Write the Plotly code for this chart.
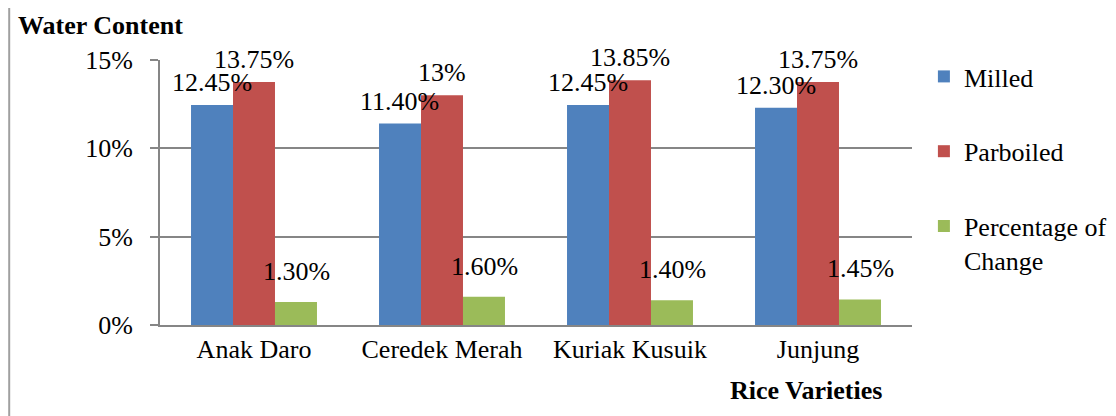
import plotly.graph_objects as go

categories = ["Anak Daro", "Ceredek Merah", "Kuriak Kusuik", "Junjung"]
milled = [12.45, 11.40, 12.45, 12.30]
parboiled = [13.75, 13.00, 13.85, 13.75]
change = [1.30, 1.60, 1.40, 1.45]
milled_labels = ["12.45%", "11.40%", "12.45%", "12.30%"]
parboiled_labels = ["13.75%", "13%", "13.85%", "13.75%"]
change_labels = ["1.30%", "1.60%", "1.40%", "1.45%"]
y_ticks = [0, 5, 10, 15]
y_tick_text = ["0%", "5%", "10%", "15%"]

W, H = 1116, 416
OFF = 8  # page body margin
# target plot area on screen: x 160..918, y 60..325
L, T = 160 - OFF, 60 - OFF
R = W - (918 - OFF)
B = H - (325 - OFF)
BARGAP = 0.33
FONT = "Liberation Serif, Times New Roman, serif"
FS = 26

series = [
    ("Milled", milled, milled_labels, "#4F81BD", 6),
    ("Parboiled", parboiled, parboiled_labels, "#C0504D", 6),
    ("Percentage of<br>Change", change, change_labels, "#9BBB59", 14),
]

fig = go.Figure()
for i, (name, vals, labs, col, ys) in enumerate(series):
    fig.add_trace(go.Bar(
        x=categories, y=vals, name=name, marker_color=col,
        marker_line_width=0, legendgroup=str(i),
    ))

plot_w = W - L - R
plot_h = H - T - B
slot = plot_w / len(categories)
bar_w = slot * (1 - BARGAP) / len(series)


def px_x(sx):
    return (sx - OFF - L) / plot_w


def px_y(sy):
    return (H - B - (sy - OFF)) / plot_h


annotations = []
for i, (name, vals, labs, col, ys) in enumerate(series):
    shift = (i - (len(series) - 1) / 2) * bar_w
    for c, v, t in zip(categories, vals, labs):
        annotations.append(dict(
            x=c, y=v, xref="x", yref="y", text=t, showarrow=False,
            xshift=shift, yshift=ys, yanchor="bottom", xanchor="center",
            font=dict(family=FONT, size=FS, color="black"),
        ))

annotations.append(dict(
    x=px_x(15), y=px_y(25), xref="paper", yref="paper",
    text="<b>Water Content</b>", showarrow=False, xanchor="left", yanchor="middle",
    font=dict(family=FONT, size=FS, color="black"),
))
annotations.append(dict(
    x=px_x(811), y=px_y(390), xref="paper", yref="paper",
    text="<b>Rice Varieties</b>", showarrow=False, xanchor="center", yanchor="middle",
    font=dict(family=FONT, size=FS, color="black"),
))

fig.update_layout(
    width=W, height=H,
    margin=dict(l=L, r=R, t=T, b=B, pad=0),
    paper_bgcolor="white", plot_bgcolor="white",
    barmode="group", bargap=BARGAP, bargroupgap=0,
    font=dict(family=FONT, size=FS, color="black"),
    showlegend=True,
    legend=dict(
        x=px_x(930), y=px_y(53), xanchor="left", yanchor="top",
        font=dict(family=FONT, size=FS, color="black"),
        tracegroupgap=38, valign="top", itemwidth=30,
        bgcolor="rgba(0,0,0,0)", maxheight=400,
    ),
    annotations=annotations,
    shapes=[dict(
        type="line", xref="paper", yref="paper",
        x0=px_x(8), x1=px_x(8),
        y0=px_y(5), y1=px_y(430),
        line=dict(color="#A0A0A0", width=2),
    )],
)
fig.update_xaxes(
    showline=True, linecolor="#868686", linewidth=2,
    showgrid=False, ticks="", tickfont=dict(family=FONT, size=FS, color="black"),
)
fig.update_yaxes(
    range=[0, 15], tickvals=y_ticks, ticktext=y_tick_text,
    showline=True, linecolor="#868686", linewidth=2,
    showgrid=True, gridcolor="#868686", gridwidth=2,
    ticks="outside", ticklen=8, tickcolor="#868686", tickwidth=2,
    ticklabelstandoff=12, zeroline=False,
    tickfont=dict(family=FONT, size=FS, color="black"),
)

fig.write_html("out.html")
